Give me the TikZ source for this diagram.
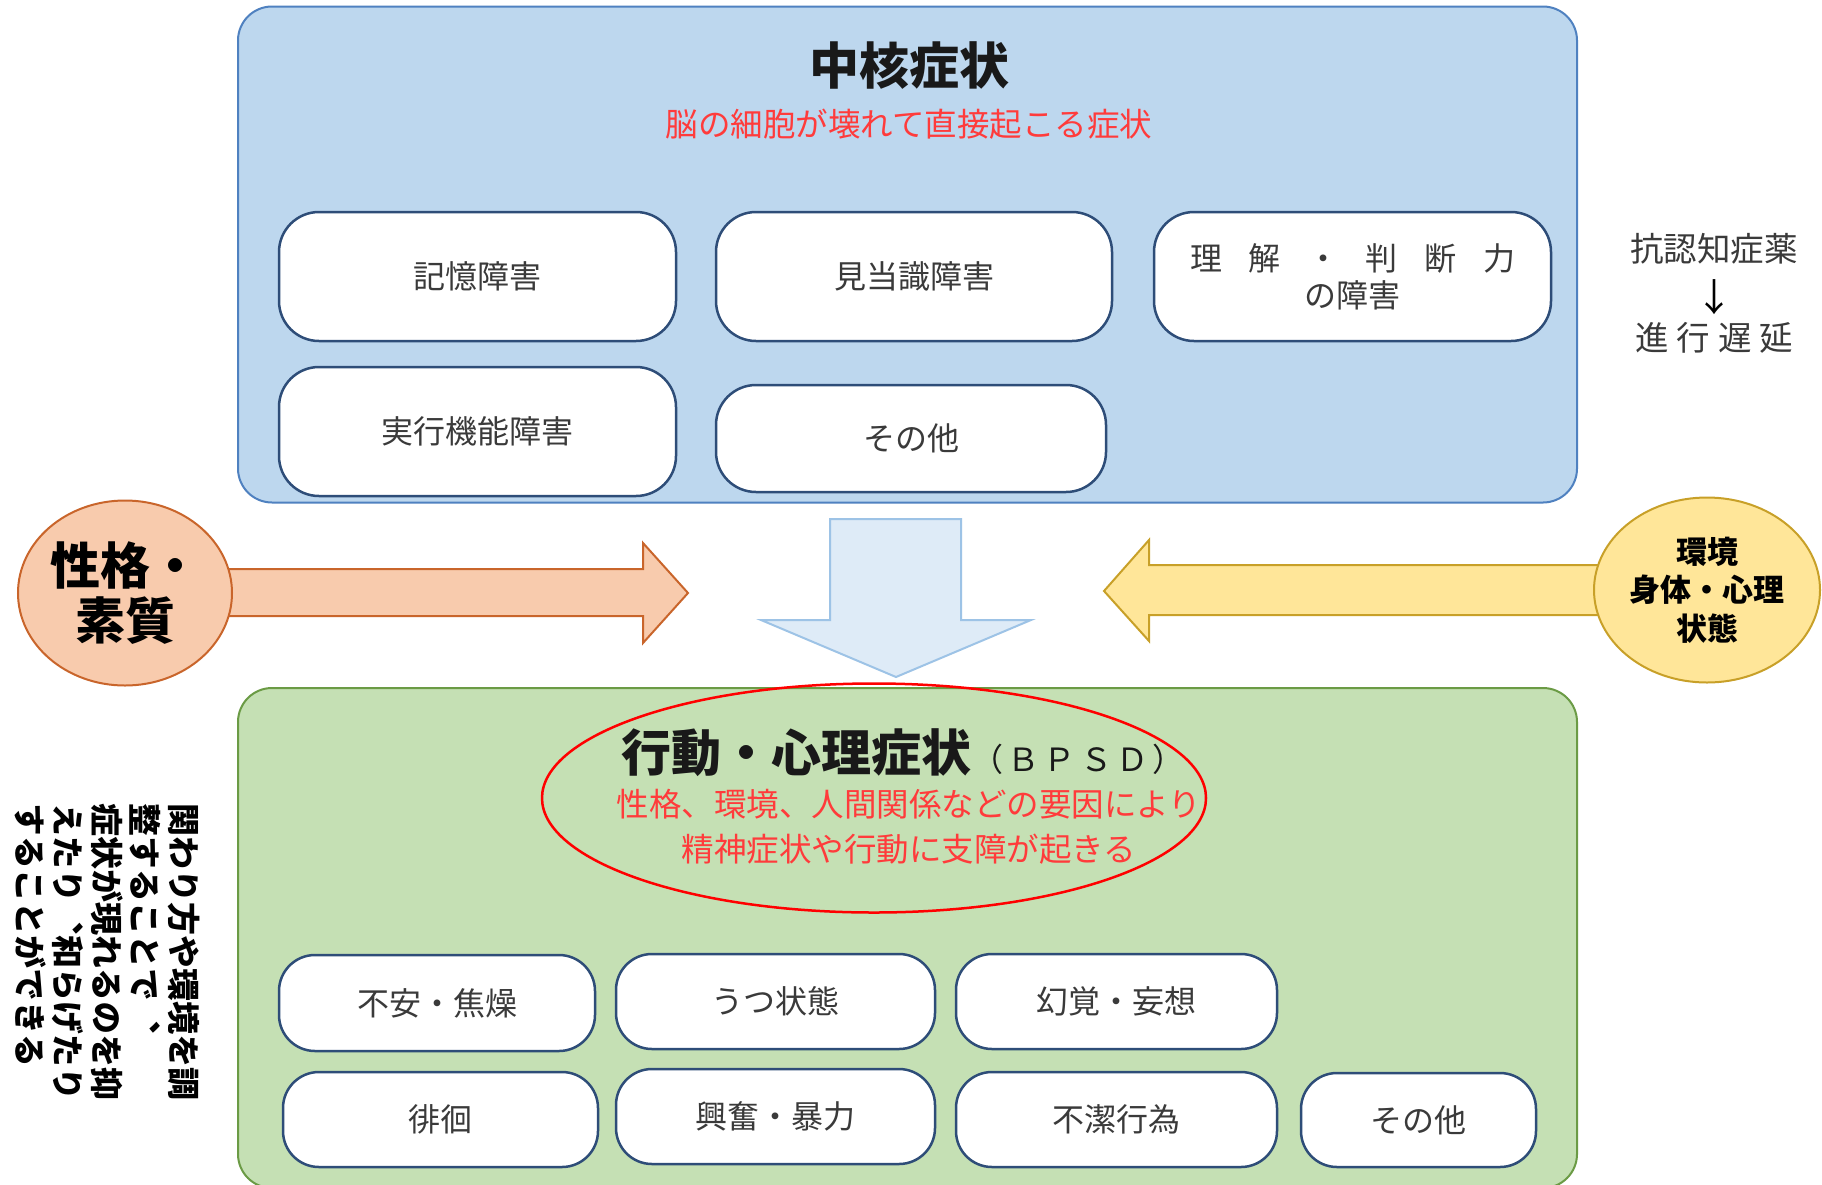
\documentclass[tikz,border=0pt]{standalone}
\usepackage{fontspec}
\setmainfont{Noto Sans CJK JP}
\newfontfamily\vjp{Noto Sans CJK JP}[Vertical=RotatedGlyphs]
\usetikzlibrary{shapes.geometric}
\definecolor{bluefill}{HTML}{BDD7EE}
\definecolor{blueline}{HTML}{4F81C0}
\definecolor{pillline}{HTML}{2E4D78}
\definecolor{greenfill}{HTML}{C5E0B4}
\definecolor{greenline}{HTML}{6B9B45}
\definecolor{orfill}{HTML}{F8CBAD}
\definecolor{orline}{HTML}{C9652B}
\definecolor{yefill}{HTML}{FFE699}
\definecolor{yeline}{HTML}{C8A028}
\definecolor{arfill}{HTML}{DEEBF7}
\definecolor{arline}{HTML}{9DC3E6}
\definecolor{redtxt}{HTML}{FF3B3B}
\definecolor{txt}{HTML}{3A3A3A}
\tikzset{
  bigbox/.style={line width=2pt, rounded corners=34pt, inner sep=0pt},
  pill/.style={draw=pillline, line width=2.5pt, fill=white, rounded corners=40pt,
    text=txt, inner sep=0pt, align=center, font=\fontsize{32}{39}\selectfont},
  title/.style={font=\bfseries\fontsize{50}{55}\selectfont, text=black!90, inner sep=0pt},
  redline/.style={font=\fontsize{32.5}{36}\selectfont, text=redtxt, inner sep=0pt},
  plain/.style={font=\fontsize{33.5}{36}\selectfont, text=txt, inner sep=0pt},
  blob/.style={ellipse, line width=2pt, inner sep=0pt, align=center},
  blockarrow/.style={line width=2pt, line join=miter}
}
\begin{document}
\begin{tikzpicture}[x=1pt,y=-1pt]
\useasboundingbox (0,0) rectangle (1822,1184);
\fill[white] (0,0) rectangle (1822,1184);

% core symptoms box
\node[bigbox, draw=blueline, fill=bluefill, minimum width=1339pt, minimum height=496pt] (core) at (907.5,254.5) {};
\node[title] (coret) at (909,66) {中核症状};
\node[redline] (cores) at (909,124) {脳の細胞が壊れて直接起こる症状};
\node[pill, minimum width=397pt, minimum height=129pt] (c1) at (477.5,276.5) {記憶障害};
\node[pill, minimum width=396pt, minimum height=129pt] (c2) at (914,276.5) {見当識障害};
\node[pill, minimum width=397pt, minimum height=129pt] (c3) at (1352.5,276.5)
  {\makebox[325pt]{理\hfill 解\hfill ・\hfill 判\hfill 断\hfill 力}\\[-2pt]の障害};
\node[pill, minimum width=397pt, minimum height=129pt] (c4) at (477.5,431.5) {実行機能障害};
\node[pill, minimum width=390pt, minimum height=107pt] (c5) at (911,438.5) {その他};

% drug note
\node[plain] (drug) at (1714,249) {抗認知症薬};
\node[plain, font=\fontsize{38}{40}\selectfont, text=black] (darrow) at (1714,297) {↓};
\node[plain] (delay) at (1714,338) {\makebox[158pt]{進\hfill 行\hfill 遅\hfill 延}};

% block arrows
\draw[blockarrow, draw=orline, fill=orfill] (200,569) -- (643,569) -- (643,543) -- (688,593)
  -- (643,643) -- (643,616) -- (200,616) -- cycle;
\draw[blockarrow, draw=yeline, fill=yefill] (1630,565) -- (1149,565) -- (1149,540) -- (1104,591)
  -- (1149,641) -- (1149,615) -- (1630,615) -- cycle;
\draw[blockarrow, draw=arline, fill=arfill] (830,519) -- (961,519) -- (961,620) -- (1031,620)
  -- (896,677) -- (761,620) -- (830,620) -- cycle;

% factor ellipses
\node[blob, draw=orline, fill=orfill, minimum width=214pt, minimum height=185pt,
  font=\bfseries\fontsize{50}{55}\selectfont] (pers) at (125,593) {性格・\\素質};
\node[blob, draw=yeline, fill=yefill, minimum width=226pt, minimum height=185pt,
  font=\bfseries\fontsize{31}{38.5}\selectfont] (env) at (1707,590) {環境\\身体・心理\\状態};

% BPSD box
\node[bigbox, draw=greenline, fill=greenfill, minimum width=1339pt, minimum height=500pt] (bpsd) at (907.5,938) {};
\node[title, anchor=base] (bpsdt) at (903,771) {行動・心理症状{\mdseries\fontsize{32}{36}\selectfont \makebox[213pt]{（\hfill Ｂ\hfill Ｐ\hfill Ｓ\hfill Ｄ\hfill ）}}};
\node[redline] (bpsds1) at (909,804) {性格、環境、人間関係などの要因により};
\node[redline] (bpsds2) at (909,849) {精神症状や行動に支障が起きる};
\node[ellipse, draw=red, line width=2.5pt, minimum width=664pt, minimum height=229pt, inner sep=0pt] (ring) at (874,798) {};

\node[pill, rounded corners=36pt, minimum width=316pt, minimum height=96pt] (b1) at (437,1003) {不安・焦燥};
\node[pill, rounded corners=36pt, minimum width=319pt, minimum height=95pt] (b2) at (775.5,1001.5) {うつ状態};
\node[pill, rounded corners=36pt, minimum width=321pt, minimum height=95pt] (b3) at (1116.5,1001.5) {幻覚・妄想};
\node[pill, rounded corners=36pt, minimum width=315pt, minimum height=95pt] (b4) at (440.5,1119.5) {徘徊};
\node[pill, rounded corners=36pt, minimum width=319pt, minimum height=95pt] (b5) at (775.5,1116.5) {興奮・暴力};
\node[pill, rounded corners=36pt, minimum width=321pt, minimum height=95pt] (b6) at (1116.5,1119.5) {不潔行為};
\node[pill, rounded corners=36pt, minimum width=235pt, minimum height=94pt] (b7) at (1418.5,1120) {その他};

% vertical note
\node[rotate=-90, anchor=north west, inner sep=0pt, align=left,
  font=\vjp\bfseries\fontsize{33}{38.5}\selectfont, text=black] (note) at (200,803)
  {関わり方や環境を調\\整することで、\\症状が現れるのを抑\\えたり、和らげたり\\することができる};
\end{tikzpicture}
\end{document}
